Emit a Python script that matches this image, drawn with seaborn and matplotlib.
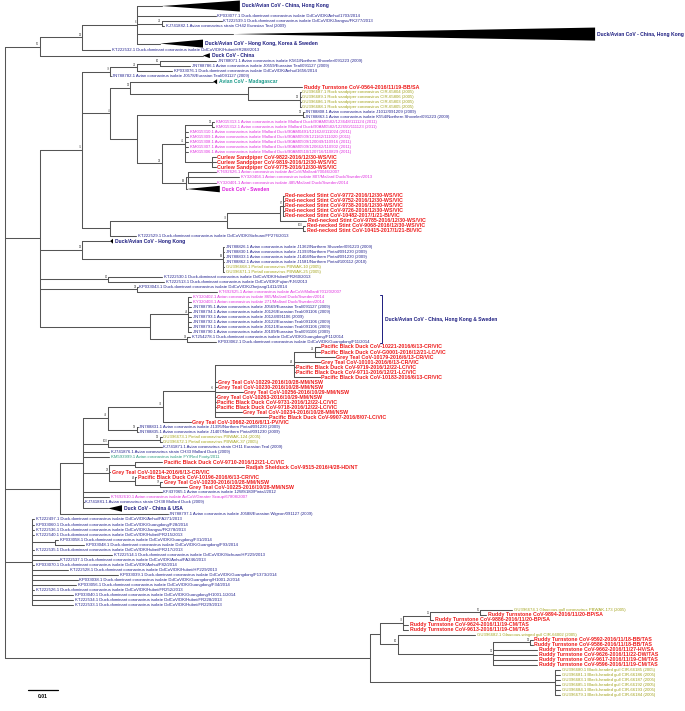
import numpy as np
import pandas as pd
import matplotlib
matplotlib.use("Agg")
import matplotlib.pyplot as plt
import seaborn as sns

sns.set_theme(style="white")
plt.rcParams['font.family'] = ['Liberation Sans', 'DejaVu Sans']

# ---------------- data ----------------
LABELS = [
 "Duck/Avian CoV - China, Hong Kong",
 "KP033077.1 Duck-dominant coronavirus isolate DdCoV/DK/Anhui/1703/2014",
 "KT222539.1 Duck-dominant coronavirus isolate DdCoV/DK/Jiangsu/FK277/2013",
 "KJ741882.1 Avian coronavirus strain CH42 Eurasian Teal (2009)",
 "Duck/Avian CoV - China, Hong Kong",
 "Duck/Avian CoV - Hong Kong, Korea & Sweden",
 "KT222532.1 Duck-dominant coronavirus isolate DdCoV/DK/Hubei/HR288/2013",
 "Duck CoV - China",
 "JN788071.1 Avian coronavirus isolate K561/Northern Shoveler/091223 (2009)",
 "JN788786.1 Avian coronavirus isolate J0559/Eurasian Teal/091127 (2009)",
 "KP033076.1 Duck-dominant coronavirus isolate DdCoV/DK/Anhui/1656/2014",
 "JN788782.1 Avian coronavirus isolate J0578/Eurasian Teal/091127 (2009)",
 "Avian CoV - Madagascar",
 "Ruddy Turnstone CoV-0564-2016/11/19-BB/SA",
 "GU396687.1 Rock sandpiper coronavirus CIR-65804 (2005)",
 "GU396689.1 Rock sandpiper coronavirus CIR-65806 (2005)",
 "GU396686.1 Rock sandpiper coronavirus CIR-65803 (2005)",
 "GU396688.1 Rock sandpiper coronavirus CIR-65805 (2005)",
 "JN788808.1 Avian coronavirus isolate J1012/091209 (2009)",
 "JN788863.1 Avian coronavirus isolate K554/Northern Shoveler/091223 (2009)",
 "KM015313.1 Avian coronavirus isolate Mallard Duck/90AM0582/123648/111124 (2011)",
 "KM015312.1 Avian coronavirus isolate Mallard Duck/90AM0582/122650/111123 (2011)",
 "KM015310.1 Avian coronavirus isolate Mallard Duck/90AM0491/121624/111024 (2011)",
 "KM015309.1 Avian coronavirus isolate Mallard Duck/90AM0509/121162/111020 (2011)",
 "KM015308.1 Avian coronavirus isolate Mallard Duck/90AM0509/120049/110916 (2011)",
 "KM015307.1 Avian coronavirus isolate Mallard Duck/90AM0509/120662/110902 (2011)",
 "KM015306.1 Avian coronavirus isolate Mallard Duck/90AM0510/120716/110829 (2011)",
 "Curlew Sandpiper CoV-9822-2016/12/30-WS/VIC",
 "Curlew Sandpiper CoV-9819-2016/12/30-WS/VIC",
 "Curlew Sandpiper CoV-9775-2016/12/30-WS/VIC",
 "KT692626.1 Avian coronavirus isolate AvCoV/Mallard/70046/2007",
 "KY320404.1 Avian coronavirus isolate 807/Mallard Duck/Sweden/2013",
 "KY320401.1 Avian coronavirus isolate 485/Mallard Duck/Sweden/2014",
 "Duck CoV - Sweden",
 "Red-necked Stint CoV-9772-2016/12/30-WS/VIC",
 "Red-necked Stint CoV-9752-2016/12/30-WS/VIC",
 "Red-necked Stint CoV-9738-2016/12/30-WS/VIC",
 "Red-necked Stint CoV-9726-2016/12/30-WS/VIC",
 "Red-necked Stint CoV-10482-2017/1/21-BI/VIC",
 "Red-necked Stint CoV-9785-2016/12/30-WS/VIC",
 "Red-necked Stint CoV-9068-2016/12/30-WS/VIC",
 "Red-necked Stint CoV-10415-2017/1/21-BI/VIC",
 "KT222529.1 Duck-dominant coronavirus isolate DdCoV/DK/Sichuan/FP276/2013",
 "Duck/Avian CoV - Hong Kong",
 "JN788826.1 Avian coronavirus isolate J1362/Northern Shoveler/091223 (2009)",
 "JN788830.1 Avian coronavirus isolate J1393/Northern Pintail/091230 (2009)",
 "JN788833.1 Avian coronavirus isolate J1404/Northern Pintail/091230 (2009)",
 "JN788862.1 Avian coronavirus isolate J1581/Northern Pintail/100112 (2010)",
 "GU396668.1 Pintail coronavirus PBWAK-10 (2005)",
 "GU396671.1 Pintail coronavirus PBWAK-25 (2005)",
 "KT222530.1 Duck-dominant coronavirus isolate DdCoV/DK/Hubei/FR260/2013",
 "KT222513.1 Duck-dominant coronavirus isolate DdCoV/DK/Fujian/FJ6/2013",
 "KP033043.1 Duck-dominant coronavirus isolate DdCoV/DK/Zhejiang/1411/2014",
 "KT692625.1 Avian coronavirus isolate AvCoV/Mallard/70120/2007",
 "KY320402.1 Avian coronavirus isolate 865/Mallard Duck/Sweden/2014",
 "KY320403.1 Avian coronavirus isolate 271/Mallard Duck/Sweden/2014",
 "JN788795.1 Avian coronavirus isolate J0569/Eurasian Teal/091127 (2009)",
 "JN788794.1 Avian coronavirus isolate J0126/Eurasian Teal/091106 (2009)",
 "JN788793.1 Avian coronavirus isolate J0124/091106 (2009)",
 "JN788792.1 Avian coronavirus isolate J0122/Eurasian Teal/091106 (2009)",
 "JN788791.1 Avian coronavirus isolate J0121/Eurasian Teal/091106 (2009)",
 "JN788790.1 Avian coronavirus isolate J0109/Eurasian Teal/091106 (2009)",
 "KT254278.1 Duck-dominant coronavirus isolate DdCoV/DK/Guangdong/F11/2014",
 "KP033062.1 Duck-dominant coronavirus isolate DdCoV/DK/Guangdong/F11/2014",
 "Pacific Black Duck CoV-10221-2016/6/13-CR/VIC",
 "Pacific Black Duck CoV-G0001-2016/12/21-LC/VIC",
 "Grey Teal CoV-10179-2016/6/13-CR/VIC",
 "Grey Teal CoV-10101-2016/6/13-CR/VIC",
 "Pacific Black Duck CoV-9719-2016/12/22-LC/VIC",
 "Pacific Black Duck CoV-9711-2016/12/21-LC/VIC",
 "Pacific Black Duck CoV-10183-2016/6/13-CR/VIC",
 "Grey Teal CoV-10229-2016/10/28-MM/NSW",
 "Grey Teal CoV-10230-2016/10/28-MM/NSW",
 "Grey Teal CoV-10256-2016/10/29-MM/NSW",
 "Grey Teal CoV-10263-2016/10/29-MM/NSW",
 "Pacific Black Duck CoV-9731-2016/12/22-LC/VIC",
 "Pacific Black Duck CoV-9718-2016/12/22-LC/VIC",
 "Grey Teal CoV-10234-2016/10/28-MM/NSW",
 "Pacific Black Duck CoV-9907-2016/8/07-LC/VIC",
 "Grey Teal CoV-10662-2016/6/11-PV/VIC",
 "JN788831.1 Avian coronavirus isolate J1395/Northern Pintail/091230 (2009)",
 "JN788835.1 Avian coronavirus isolate J1407/Northern Pintail/091230 (2009)",
 "GU396673.1 Pintail coronavirus PBWAK-124 (2005)",
 "GU396672.1 Pintail coronavirus PBWAK-37 (2005)",
 "KJ741871.1 Avian coronavirus strain CH11 Eurasian Teal (2009)",
 "KJ741876.1 Avian coronavirus strain CH33 Mallard Duck (2009)",
 "KM593999.1 Avian coronavirus isolate FY/Red Footy/2011",
 "Pacific Black Duck CoV-9710-2016/12/21-LC/VIC",
 "Radjah Shelduck CoV-9515-2016/4/28-HD/NT",
 "Grey Teal CoV-10214-2016/6/13-CR/VIC",
 "Pacific Black Duck CoV-10196-2016/6/13-CR/VIC",
 "Grey Teal CoV-10230-2016/10/28-MM/NSW",
 "Grey Teal CoV-10225-2016/10/28-MM/NSW",
 "KF437065.1 Avian coronavirus isolate 12WS180/Pintail/2012",
 "KT692610.1 Avian coronavirus isolate AvCoV/Greater Scaup/67808/2007",
 "KJ741881.1 Avian coronavirus strain CH38 Mallard Duck (2009)",
 "Duck CoV - China & USA",
 "JN788797.1 Avian coronavirus isolate J0588/Eurasian Wigeon/091127 (2009)",
 "KT222497.1 Duck-dominant coronavirus isolate DdCoV/DK/Anhui/FA271/2013",
 "KP033060.1 Duck-dominant coronavirus isolate DdCoV/DK/Guangdong/F28/2014",
 "KT222536.1 Duck-dominant coronavirus isolate DdCoV/DK/Jiangsu/FK278/2013",
 "KT222540.1 Duck-dominant coronavirus isolate DdCoV/DK/Hubei/FR215/2013",
 "KP033058.1 Duck-dominant coronavirus isolate DdCoV/DK/Guangdong/F31/2014",
 "KP033048.1 Duck-dominant coronavirus isolate DdCoV/DK/Guangdong/F93/2014",
 "KT222535.1 Duck-dominant coronavirus isolate DdCoV/DK/Hubei/FR217/2013",
 "KT222514.1 Duck-dominant coronavirus isolate DdCoV/DK/Sichuan/HP229/2013",
 "KT222537.1 Duck-dominant coronavirus isolate DdCoV/DK/Anhui/FA246/2013",
 "KP033070.1 Duck-dominant coronavirus isolate DdCoV/DK/Anhui/F82/2014",
 "KT222528.1 Duck-dominant coronavirus isolate DdCoV/DK/Hubei/HP229/2013",
 "KP033039.1 Duck-dominant coronavirus isolate DdCoV/DK/Guangdong/F1373/2014",
 "KP033038.1 Duck-dominant coronavirus isolate DdCoV/DK/Guangdong/H1001-2/2014",
 "KP033056.1 Duck-dominant coronavirus isolate DdCoV/DK/Guangdong/F34/2014",
 "KT222526.1 Duck-dominant coronavirus isolate DdCoV/DK/Hubei/FR252/2013",
 "KP033040.1 Duck-dominant coronavirus isolate DdCoV/DK/Guangdong/H1001-1/2014",
 "KT222534.1 Duck-dominant coronavirus isolate DdCoV/DK/Hubei/FR228/2013",
 "KT222533.1 Duck-dominant coronavirus isolate DdCoV/DK/Hubei/FR229/2013",
 "GU396674.1 Glaucous-gull coronavirus PBWAK-173 (2005)",
 "Ruddy Turnstone CoV-9894-2016/11/20-BP/SA",
 "Ruddy Turnstone CoV-9886-2016/11/20-BP/SA",
 "Ruddy Turnstone CoV-9624-2016/11/19-CM/TAS",
 "Ruddy Turnstone CoV-9613-2016/11/19-CM/TAS",
 "GU396682.1 Glaucous-winged gull CIR-66002 (2005)",
 "Ruddy Turnstone CoV-9592-2016/11/18-BB/TAS",
 "Ruddy Turnstone CoV-9586-2016/11/18-BB/TAS",
 "Ruddy Turnstone CoV-9662-2016/11/27-HV/SA",
 "Ruddy Turnstone CoV-9626-2016/11/22-DW/TAS",
 "Ruddy Turnstone CoV-9617-2016/11/19-CM/TAS",
 "Ruddy Turnstone CoV-9596-2016/11/19-CM/TAS",
 "GU396680.1 Black-headed gull CIR-66185 (2005)",
 "GU396681.1 Black-headed gull CIR-66186 (2005)",
 "GU396683.1 Black-headed gull CIR-66187 (2005)",
 "GU396685.1 Black-headed gull CIR-66192 (2005)",
 "GU396684.1 Black-headed gull CIR-66193 (2005)",
 "GU396679.1 Black-headed gull CIR-66184 (2005)",
]

# label category runs (top to bottom)
KIND_RUNS = [("G",1),("n",3),("G",2),("n",1),("G",1),("n",4),("T",1),("r",1),("o",4),
             ("n",2),("m",7),("r",3),("m",3),("M",1),("r",8),("n",1),("G",1),("n",4),
             ("o",2),("n",3),("m",3),("n",8),("r",16),("n",2),("o",2),("n",2),("t",1),
             ("r",6),("n",1),("m",1),("n",1),("G",1),("n",19),("o",1),("r",4),("o",1),
             ("r",6),("o",6)]

# collapsed clades: leaf index -> (clade depth in subst./site x1000, rows occupied, base height in rows)
TRIANGLES = {0: (26, 3.0, 2.2), 4: (120.7, 2.2, 2.6), 5: (14.3, 1.6, 1.6), 7: (2.3, 1.2, 1.0),
             12: (1.3, 1.2, 1.0), 33: (11, 1.6, 1.3), 43: (1.0, 1.2, 1.0), 96: (4.7, 1.4, 1.3)}

# bracket clade label: (first leaf, last leaf, text)
BRACKET = (54, 63, "Duck/Avian CoV - China, Hong Kong & Sweden")

# Tree (leaf names = label index; branch lengths in substitutions/site x 1000; internal labels = bootstrap)
pA = "((0:8.3,1:26.3,(2:20,3:0.7)21:8.3,4:32,5:7.7)6:18.3,6:9.3)98"
Ua = "(" + pA + ":14,7:54.3)65"
N110a = "(((8:18.7,9:10)60:7.7,10:11.7)21:9,11:0.3)78"
N130 = "(12:27.7,(13:18,(14:0.3,15:0.3,16:0.3,17:0.3)98:17.3):39.3)93"
N137c = ("((18:0.3,19:0.3)99:55.3,(((20:0.7,21:0.7)99:9,22:1,23:1,24:1,25:1,26:1,"
         "(27:1.3,28:1.3,29:1.3):9)41:7.7,((30:9.3,31:17,32:9.3):0.7,33:0.3)96:8)33:8.3)")
N110b = "(" + N130 + ":6.7," + N137c + ":9)4"
N110c = ("((((34:0.2,35:0.2,36:0.2,37:0.2,38:0.2)87:1,39:8.7):17.7,"
         "(40:0.7,41:0.7)100:25.3)73:39,42:8.7)")
N82c = "(" + N110a + ":9.3," + N110b + ":9.3," + N110c + ":9.3)75"
N82b = "(43:9.3,(44:0.3,45:0.3,46:0.3,47:0.3,48:0.3,49:0.3)96:47)98"
N108x = "(50:18,51:18.7)86"
N137x = "(52:0.3,53:26.7)33"
N150 = "((54:1,55:1,56:1,57:1,58:1,59:1,60:1,61:1)44:12.7,(62:1,63:9.7)14:12.3)"
Ub = "(" + N82c + ":14," + N82b + ":14," + N108x + ":22.7," + N137x + ":32.3," + N150 + ":36.7)"
N108A = ("(((((64:1.7,65:1.7,66:6.7)94:7,67:8.7,68:0.3,69:0.3,70:8.7)84:26.3,71:0.7,72:0.7,"
         "73:9.3,74:0.3,75:0.3,76:0.3,77:9,78:17.7)76:17.3,79:9.3)74:18.3,(80:0.3,81:0.3)95:9.7)47")
N108B = "((82:0.7,83:0.7)99:17.3,84:18)100"
N109 = "((87:9,88:36.3):8.7,89:0.3,(90:0.3,(91:0.7,92:9)97:8.3)84:8.7)23"
N83 = "(" + N108A + ":8.3," + N108B + ":8.3,85:8.7,86:8.7," + N109 + ":8.7,93:26.3,94:8.7,95:0.3,96:8.3)"
Uc = "(" + N83 + ":7.7,97:36)"
BL = ("(98:0.7,99:0.7,100:0.7,101:0.7,(102:1,103:9.7):7.7,104:0.7,105:26.7,106:9,107:0.7,"
      "108:12,109:28.7,110:15.3,111:14.7,112:0.7,113:13.7,114:13.7,115:13.7)")
RIGHT = ("(((((116:10.7,117:2)65:16.7,118:1)11:9,119:1.7,120:1.7)73:7.7,"
         "(121:25.7,((122:1,123:1)99:12.3,124:14.7,125:14.7,126:14.7,127:14.7)91:31.7)60:6):3.3,"
         "(128:1.7,129:1.7,130:1.7,131:1.7,132:1.7,133:1.7):61.7)")
NEWICK = "(" + Ua + ":11.7," + Ub + ":11.7," + Uc + ":18.3," + BL + ":9," + RIGHT + ":121.7);"

SCALE_BAR = 0.01

# ---------------- parsing / layout ----------------
def parse_newick(s):
    s = s.strip().rstrip(";")
    pos = 0
    def node():
        nonlocal pos
        ch = []
        if s[pos] == "(":
            pos += 1
            while True:
                ch.append(node())
                if s[pos] == ",":
                    pos += 1
                    continue
                pos += 1
                break
        st = pos
        while pos < len(s) and s[pos] not in ":,)":
            pos += 1
        name = s[st:pos]
        ln = 0.0
        if pos < len(s) and s[pos] == ":":
            pos += 1
            st = pos
            while pos < len(s) and s[pos] not in ",)":
                pos += 1
            ln = float(s[st:pos])
        return {"ch": ch, "name": name, "len": ln / 1000.0}
    return node()

kinds = []
for k, n in KIND_RUNS:
    kinds += [k] * n
assert len(kinds) == len(LABELS)

tree = parse_newick(NEWICK)

order = []
def collect(n):
    if n["ch"]:
        for c in n["ch"]:
            collect(c)
    else:
        order.append(int(n["name"]))
collect(tree)
row = {}
cur = 0.0
for i in order:
    h = TRIANGLES.get(i, (0, 1.0, 0))[1]
    row[i] = cur + h / 2.0
    cur += h

segs = []
nodes = []
def layout(n, x0):
    x = x0 + n["len"]
    n["x"] = x
    if n["ch"]:
        ys = [layout(c, x) for c in n["ch"]]
        y = (min(ys) + max(ys)) / 2.0
        segs.append((x, min(ys), x, max(ys)))
        for c in n["ch"]:
            segs.append((x, c["y"], c["x"], c["y"]))
        nodes.append((x, y, n["name"]))
    else:
        y = row[int(n["name"])]
    n["y"] = y
    return y
layout(tree, 0.0)

leaves = []
def leafinfo(n):
    if n["ch"]:
        for c in n["ch"]:
            leafinfo(c)
    else:
        leaves.append((int(n["name"]), n["x"], n["y"]))
leafinfo(tree)

# ---------------- drawing ----------------
W, H = 685, 711
fig = plt.figure(figsize=(W / 100, H / 100), dpi=100)
ax = fig.add_axes([0, 0, 1, 1])

PX = 0.01 / 30.0
x_root_px = 5
y_first_px, y_last_px = 6, 695
r0, r1 = row[order[0]], row[order[-1]]
rpp = (r1 - r0) / (y_last_px - y_first_px)
ax.set_xlim(-x_root_px * PX, (W - x_root_px) * PX)
ax.set_ylim(r0 + (H - y_first_px) * rpp, r0 - y_first_px * rpp)

rows_df = []
for k, (x1, y1, x2, y2) in enumerate(segs):
    rows_df.append((k, x1, y1))
    rows_df.append((k, x2, y2))
df = pd.DataFrame(rows_df, columns=["seg", "x", "y"])
sns.lineplot(data=df, x="x", y="y", units="seg", estimator=None, sort=False,
             color="#555555", lw=0.75, ax=ax, legend=False)

COL = {"n": "#23238f", "m": "#e030e0", "o": "#a3a31c", "r": "#ee1c1c", "t": "#2a9a80",
       "G": "#1c1c80", "T": "#1a9a8a", "M": "#dd22dd"}
for idx, x, y in leaves:
    k = kinds[idx]
    if idx in TRIANGLES:
        L, h, bh = TRIANGLES[idx]
        L /= 1000.0
        hh = bh / 2.0
        ax.fill([x, x + L, x + L], [y, y - hh, y + hh], color="black", lw=0)
        ax.text(x + L + 2 * PX, y, LABELS[idx], fontsize=3.6, fontweight="bold",
                color=COL[k], va="center", ha="left")
    elif k == "r":
        ax.text(x + 1.5 * PX, y, LABELS[idx], fontsize=3.75, color=COL[k], va="center",
                ha="left", fontweight="bold")
    else:
        ax.text(x + 1.5 * PX, y, LABELS[idx], fontsize=3.1, color=COL[k], va="center",
                ha="left")

for x, y, name in nodes:
    if name:
        ax.text(x - 0.6 * PX, y - 0.15, name, fontsize=2.0, color="#444444",
                ha="right", va="bottom")

# bracket
b0, b1, btxt = BRACKET
bx = (382 - x_root_px) * PX
bdf = pd.DataFrame({"x": [bx - 2 * PX, bx, bx, bx - 2 * PX],
                    "y": [row[b0] - 0.3, row[b0] - 0.3, row[b1] + 0.3, row[b1] + 0.3]})
sns.lineplot(data=bdf, x="x", y="y", sort=False, estimator=None, color="#1c1c80", lw=0.7, ax=ax)
ax.text(bx + 3 * PX, (row[b0] + row[b1]) / 2, btxt, fontsize=3.6, fontweight="bold",
        color="#1c1c80", va="center", ha="left")

# scale bar
sb_y = r0 + (690 - y_first_px) * rpp
sx0 = (28 - x_root_px) * PX
sdf = pd.DataFrame({"x": [sx0, sx0 + SCALE_BAR], "y": [sb_y, sb_y]})
sns.lineplot(data=sdf, x="x", y="y", color="black", lw=0.9, ax=ax)
ax.text(sx0 + SCALE_BAR / 2, sb_y + 4 * rpp, f"{SCALE_BAR:.2f}", fontsize=3.6,
        fontweight="bold", ha="center", va="top", color="black")

ax.set_axis_off()
fig.savefig("out.png", dpi=100, facecolor="white")
